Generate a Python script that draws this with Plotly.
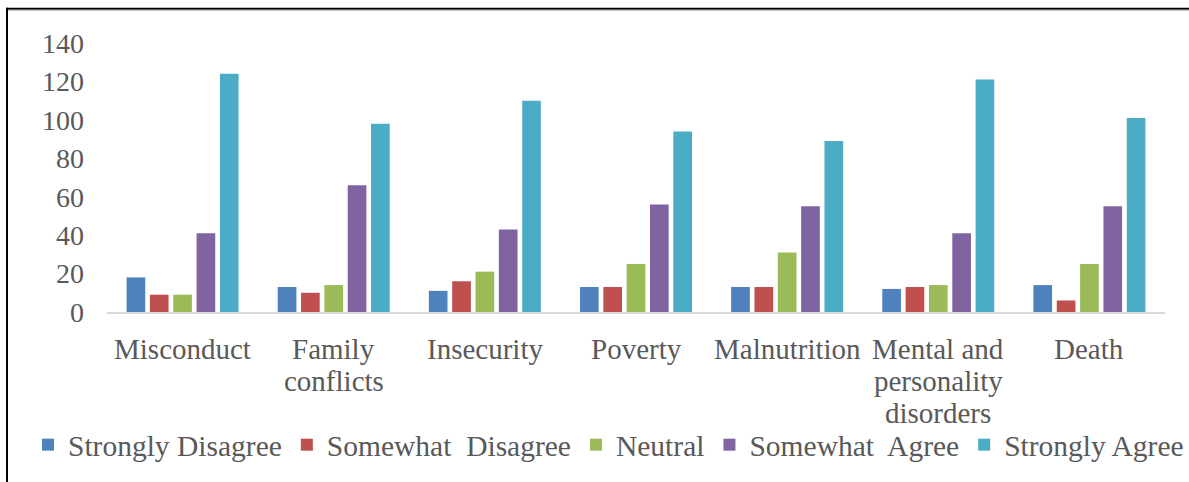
import plotly.graph_objects as go

# Survey responses per consequence (counts of respondents)
categories = ["Misconduct", "Family conflicts", "Insecurity", "Poverty",
              "Malnutrition", "Mental and personality disorders", "Death"]
category_lines = [["Misconduct"], ["Family", "conflicts"], ["Insecurity"],
                  ["Poverty"], ["Malnutrition"],
                  ["Mental and", "personality", "disorders"], ["Death"]]
strongly_disagree = [18, 13, 11, 13, 13, 12, 14]
somewhat_disagree = [9, 10, 16, 13, 13, 13, 6]
neutral = [9, 14, 21, 25, 31, 14, 25]
somewhat_agree = [41, 66, 43, 56, 55, 41, 55]
strongly_agree = [124, 98, 110, 94, 89, 121, 101]

series_names = ["Strongly Disagree", "Somewhat\u00a0 Disagree", "Neutral",
                "Somewhat\u00a0 Agree", "Strongly Agree"]
series_values = [strongly_disagree, somewhat_disagree, neutral,
                 somewhat_agree, strongly_agree]
colors = ["#4F81BD", "#C0504D", "#9BBB59", "#8064A2", "#4BACC6"]

y_ticks = [0, 20, 40, 60, 80, 100, 120, 140]

W, H = 1189, 482
ML, MR, MT, MB = 107, 24, 43, 169
PW, PH = W - ML - MR, H - MT - MB

FONT = "Liberation Serif, Times New Roman, serif"
TXT = "#595959"

fig = go.Figure()
for name, vals, col in zip(series_names, series_values, colors):
    fig.add_trace(go.Bar(x=categories, y=vals, name=name,
                         marker=dict(color=col, line=dict(width=0))))


def px_x(px):
    return (px - ML) / PW


def px_y(py):
    return (H - MB - py) / PH


# Category labels, wrapped with a tight line pitch
LINE_TOP, LINE_PITCH = 350, 32
annotations = []
for cat, lines in zip(categories, category_lines):
    for i, line in enumerate(lines):
        annotations.append(dict(
            x=cat, xref="x", y=px_y(LINE_TOP + i * LINE_PITCH), yref="paper",
            text=line, showarrow=False, xanchor="center", yanchor="middle",
            font=dict(family=FONT, size=29, color=TXT)))

# Frame lines around the figure (top and left edges)
shapes = [
    dict(type="line", xref="paper", yref="paper",
         x0=px_x(6), x1=px_x(W + 2), y0=px_y(8.5), y1=px_y(8.5),
         line=dict(color="black", width=2)),
    dict(type="line", xref="paper", yref="paper",
         x0=px_x(6), x1=px_x(W + 2), y0=px_y(10), y1=px_y(10),
         line=dict(color="#9a9a9a", width=1)),
    dict(type="line", xref="paper", yref="paper",
         x0=px_x(7), x1=px_x(7), y0=px_y(7.5), y1=px_y(H + 2),
         line=dict(color="black", width=2)),
]

fig.update_layout(
    width=W, height=H,
    margin=dict(l=ML, r=MR, t=MT, b=MB, pad=0),
    paper_bgcolor="white", plot_bgcolor="white",
    barmode="group", bargap=0.228, bargroupgap=0.2,
    font=dict(family=FONT, size=28, color=TXT),
    showlegend=True,
    legend=dict(orientation="h", x=px_x(33), xanchor="left",
                y=px_y(419), yanchor="top",
                font=dict(family=FONT, size=29.5, color=TXT),
                itemwidth=30, tracegroupgap=0, bgcolor="rgba(0,0,0,0)"),
    shapes=shapes,
    annotations=annotations,
)
fig.update_xaxes(showline=True, linecolor="#D9D9D9", linewidth=2,
                 showgrid=False, ticks="", showticklabels=False)
fig.update_yaxes(range=[0, 140], tickvals=y_ticks, showgrid=False,
                 zeroline=False, showline=False, ticks="",
                 ticklabelstandoff=22,
                 tickfont=dict(family=FONT, size=28, color=TXT))

fig.write_html("out.html")
